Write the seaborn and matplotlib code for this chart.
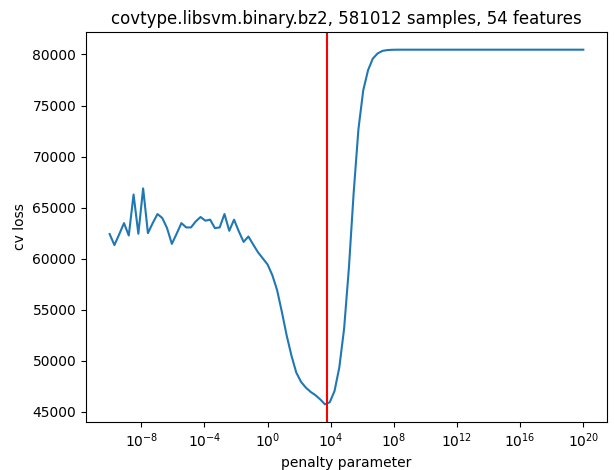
#!/usr/bin/env python3

import numpy as np
import matplotlib
matplotlib.use('Agg')
import matplotlib.pyplot as plt
from matplotlib.ticker import NullLocator
import seaborn as sns
import pandas as pd

plt.rcParams['font.size'] = 10

# penalty grid used for the cv sweep
penalties = np.logspace(-10, 20, 100)

cv_loss = [
    62420, 61340, 62400, 63490, 62280, 66290, 62450, 66890, 62510, 63490,
    64380, 63990, 63000, 61460, 62450, 63490, 63070, 63070, 63660, 64090,
    63730, 63830, 63000, 63070, 64380, 62740, 63830, 62680, 61650, 62180,
    61400, 60640, 60040, 59450, 58400, 56930, 54790, 52490, 50520, 48870,
    47950, 47390, 46970, 46650, 46240, 45750, 45950, 47050, 49360, 53140,
    59060, 66450, 72700, 76480, 78450, 79600, 80100, 80350, 80430, 80460,
    80470, 80470, 80470, 80470, 80470, 80470, 80470, 80470, 80470, 80470,
    80470, 80470, 80470, 80470, 80470, 80470, 80470, 80470, 80470, 80470,
    80470, 80470, 80470, 80470, 80470, 80470, 80470, 80470, 80470, 80470,
    80470, 80470, 80470, 80470, 80470, 80470, 80470, 80470, 80470, 80470,
]

best_penalty = 10 ** 3.78

title = 'covtype.libsvm.binary.bz2, 581012 samples, 54 features'


def main():
    df = pd.DataFrame({'penalty': penalties, 'loss': cv_loss})

    fig = plt.figure(figsize=(6.14, 4.70), dpi=100)
    ax = fig.add_subplot(1, 1, 1)

    sns.lineplot(data=df, x='penalty', y='loss', ax=ax, color='C0')
    ax.axvline(best_penalty, color='r')

    ax.set_xscale('log')
    ax.xaxis.set_minor_locator(NullLocator())
    ax.set_title(title)
    ax.set_xlabel('penalty parameter')
    ax.set_ylabel('cv loss')

    plt.subplots_adjust(left=0.140, right=0.9886, top=0.932, bottom=0.102)
    plt.savefig('out.png', dpi=100)
    plt.close()


if __name__ == '__main__':
    main()
